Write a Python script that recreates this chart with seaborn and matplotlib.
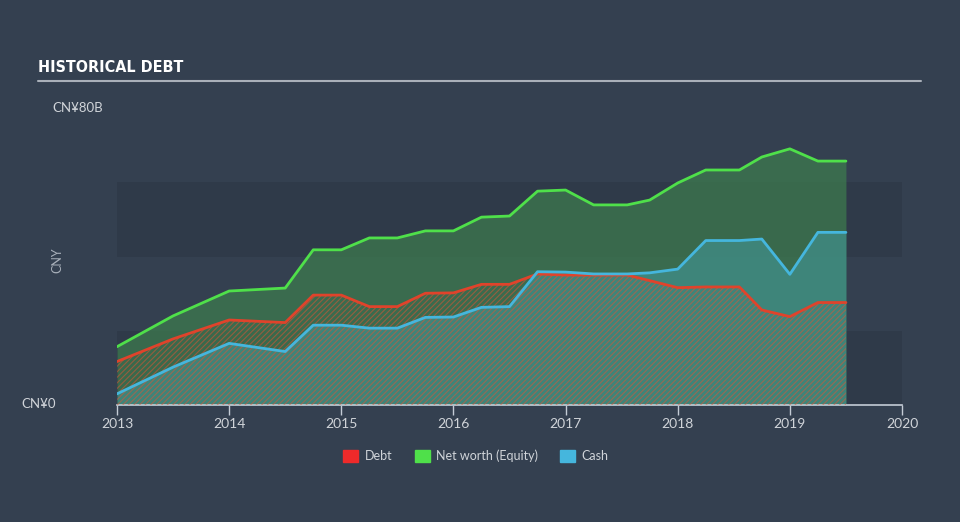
import numpy as np
import pandas as pd
import matplotlib
matplotlib.use("Agg")
import matplotlib.pyplot as plt
import seaborn as sns

# ---- data (CNY billions) ----
years = [2013.0, 2013.5, 2014.0, 2014.5, 2014.75, 2015.0, 2015.25, 2015.5, 2015.75,
         2016.0, 2016.25, 2016.5, 2016.75, 2017.0, 2017.25, 2017.55, 2017.75, 2018.0,
         2018.25, 2018.55, 2018.75, 2019.0, 2019.25, 2019.5]
equity = [15.7, 24.0, 30.7, 31.5, 41.8, 41.8, 45.0, 45.0, 46.9,
          46.9, 50.6, 50.9, 57.6, 57.9, 53.9, 53.9, 55.2, 59.8,
          63.3, 63.3, 66.8, 69.0, 65.7, 65.7]
debt = [11.7, 17.8, 22.9, 22.2, 29.6, 29.6, 26.5, 26.5, 30.1,
        30.2, 32.5, 32.5, 35.3, 35.0, 35.0, 35.0, 33.5, 31.6,
        31.8, 31.8, 25.6, 23.8, 27.6, 27.6]
cash = [3.0, 10.2, 16.6, 14.4, 21.5, 21.5, 20.7, 20.7, 23.6,
        23.7, 26.3, 26.5, 35.9, 35.8, 35.3, 35.3, 35.6, 36.6,
        44.3, 44.3, 44.7, 35.2, 46.5, 46.5]
xticks = [2013, 2014, 2015, 2016, 2017, 2018, 2019, 2020]
series_names = ["Debt", "Net worth (Equity)", "Cash"]

BG = "#344050"
BAND = "#2f3a49"
RED = "#e0432b"
GREEN = "#4fe04a"
CYAN = "#45b6dd"
TXT = "#d0d4d9"

sns.set_theme(style="dark")
plt.rcParams["font.family"] = ["Lato", "DejaVu Sans"]

fig = plt.figure(figsize=(9.6, 5.22), dpi=100, facecolor=BG)
ax = fig.add_axes([117/960, (522-405)/522, (902-117)/960, (405-108)/522])
ax.set_facecolor(BG)
ax.set_xlim(2013, 2020)
ax.set_ylim(0, 80)

# background bands
for lo, hi in [(0, 20), (40, 60)]:
    ax.axhspan(lo, hi, color=BAND, zorder=0, lw=0)

df = pd.DataFrame({"year": years, "Debt": debt, "Net worth (Equity)": equity, "Cash": cash})
x = np.array(years)

ax.fill_between(x, 0, equity, color="#3d7a4e", alpha=0.75, lw=0, zorder=1)
ax.fill_between(x, 0, cash, color="#45a6b0", alpha=0.45, lw=0, zorder=2)
plt.rcParams["hatch.linewidth"] = 0.8
ax.fill_between(x, 0, debt, facecolor="none", edgecolor=(0.88, 0.33, 0.2, 0.55),
                hatch="//////", lw=0, zorder=3)

for name, col in zip(series_names, [RED, GREEN, CYAN]):
    sns.lineplot(data=df, x="year", y=name, ax=ax, color=col, lw=2, zorder=5, label=name)

# axes styling
for s in ["top", "right", "left"]:
    ax.spines[s].set_visible(False)
ax.spines["bottom"].set_color("#c4ccd6")
ax.spines["bottom"].set_linewidth(1.2)
ax.set_xticks(xticks)
ax.set_xticklabels([str(t) for t in xticks], color=TXT, fontsize=10)
ax.tick_params(axis="x", length=7, width=1, color="#c4ccd6", pad=2, bottom=True)
ax.set_yticks([])
ax.set_xlabel("")
ax.set_ylabel("")
ax.grid(False)

# y labels
fig.text(52/960, 1-108/522, "CN¥80B", color=TXT, fontsize=9.5, ha="left", va="center")
fig.text(56/960, 1-404/522, "CN¥0", color=TXT, fontsize=9.5, ha="right", va="center")
fig.text(57/960, 1-260/522, "CNY", color="#a8b0ba", fontsize=9, rotation=90, ha="center", va="center")

# title
fig.text(38/960, 1-68/522, "HISTORICAL DEBT", color="white", fontsize=11.5, fontweight="bold",
         family="DejaVu Sans", fontstretch="condensed", ha="left", va="center")
fig.add_artist(plt.Line2D([38/960, 921/960], [1-81/522, 1-81/522], color="#a9b0b9", lw=1.5))

# legend
handles = [plt.Rectangle((0, 0), 1, 1, color=c) for c in ["#ee2a2a", GREEN, CYAN]]
leg = fig.legend(handles, series_names, loc="center", bbox_to_anchor=(476/960, 1-456/522),
                 ncol=3, frameon=False, fontsize=9, handlelength=1.2, handleheight=1.0,
                 columnspacing=1.8, handletextpad=0.5)
for t in leg.get_texts():
    t.set_color(TXT)
if ax.get_legend():
    ax.get_legend().remove()

fig.savefig("out.png", dpi=100, facecolor=BG)
